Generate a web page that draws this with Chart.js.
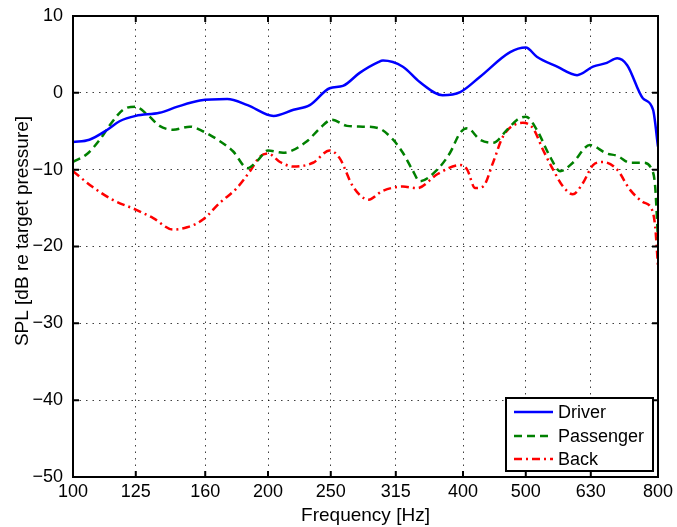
<!DOCTYPE html>
<html>
<head>
<meta charset="utf-8">
<script src="https://cdn.jsdelivr.net/npm/chart.js@4/dist/chart.umd.min.js"></script>
<style>
  html, body { margin: 0; padding: 0; background: #fff; }
  #wrap { width: 677px; height: 527px; }
</style>
</head>
<body>
<div id="wrap"><canvas id="spl" width="677" height="527"></canvas></div>
<script>
// Third-octave style frequency ticks and SPL ticks
const xTickValues = [100, 125, 160, 200, 250, 315, 400, 500, 630, 800];
const yTickValues = [10, 0, -10, -20, -30, -40, -50];

// Driver seat
const driverFreq = [100, 106, 113, 118, 125, 136, 145, 157, 173, 186, 204, 219, 232, 249, 261, 277, 296, 301, 323, 343, 372, 396, 425, 473, 500, 520, 559, 600, 635, 667, 692, 717, 758, 786, 800];
const driverSPL  = [-6.4, -6.1, -4.8, -3.7, -3.0, -2.6, -1.8, -1.0, -0.8, -1.6, -3.0, -2.2, -1.6, 0.6, 0.9, 2.6, 4.0, 4.2, 3.4, 1.4, -0.3, 0.1, 2.1, 5.3, 5.9, 4.7, 3.4, 2.3, 3.4, 3.9, 4.5, 3.6, -0.7, -2.2, -7.0];

// Passenger seat
const passengerFreq = [100, 105, 110, 114, 119.5, 124.7, 130.5, 136, 142.7, 151.6, 158.7, 168.6, 176.6, 186, 192.3, 200, 211, 229.7, 240.6, 251, 264.8, 280, 296, 312, 323, 334, 343, 365, 382, 396, 406, 425, 445, 468, 485, 500, 520, 545, 565, 591, 628, 667, 692, 724, 758, 783, 792, 800];
const passengerSPL  = [-9.0, -8.0, -6.1, -4.2, -2.2, -1.8, -2.9, -4.3, -4.8, -4.4, -5.0, -6.3, -7.6, -9.8, -8.9, -7.5, -7.8, -6.3, -4.6, -3.5, -4.3, -4.4, -4.6, -6.1, -7.8, -10.0, -11.5, -10.0, -7.8, -5.2, -4.6, -6.1, -6.5, -4.8, -3.5, -3.1, -4.8, -8.3, -10.2, -9.1, -6.8, -7.9, -8.2, -9.1, -9.1, -10.0, -12.2, -19.1];

// Back seats
const backFreq = [100, 107, 115, 125, 133, 142.7, 150, 158.7, 168.6, 179, 187.6, 194.4, 200, 208.7, 219, 234.7, 249, 258, 270.6, 286, 300, 323, 340, 365, 396, 406, 417.5, 429.5, 445, 461, 485, 495, 513, 531.5, 551, 571, 591, 613, 635, 658, 692, 724, 758, 783, 792, 800];
const backSPL  = [-10.2, -12.2, -13.9, -15.2, -16.3, -17.8, -17.5, -16.5, -14.3, -12.4, -10.2, -8.3, -7.9, -9.0, -9.6, -9.1, -7.5, -8.5, -12.2, -13.9, -12.8, -12.2, -12.4, -10.6, -9.4, -10.0, -12.4, -12.2, -9.1, -5.7, -4.0, -3.9, -4.6, -7.4, -10.0, -12.2, -13.2, -11.7, -9.4, -9.0, -10.0, -12.6, -14.2, -15.2, -17.4, -22.6];

const toPoints = (fs, vs) => fs.map((f, i) => ({ x: f, y: vs[i] }));
const minusLabel = v => (v < 0 ? '\u2212' + Math.abs(v) : String(v));

const FONT = '"Liberation Sans", Arial, Helvetica, sans-serif';
Chart.defaults.font.family = FONT;
Chart.defaults.color = '#000';

// Box around the axes with inward tick marks on all four sides
const framePlugin = {
  id: 'frame',
  afterDatasetsDraw(chart) {
    const { ctx, chartArea: a, scales: { x, y } } = chart;
    ctx.save();
    ctx.strokeStyle = '#000';
    ctx.lineWidth = 2;
    ctx.beginPath();
    for (const v of xTickValues) {
      const px = x.getPixelForValue(v);
      ctx.moveTo(px, a.bottom); ctx.lineTo(px, a.bottom - 6);
      ctx.moveTo(px, a.top); ctx.lineTo(px, a.top + 6);
    }
    for (const v of yTickValues) {
      const py = y.getPixelForValue(v);
      ctx.moveTo(a.left, py); ctx.lineTo(a.left + 6, py);
      ctx.moveTo(a.right, py); ctx.lineTo(a.right - 6, py);
    }
    ctx.stroke();
    ctx.strokeRect(a.left, a.top, a.right - a.left, a.bottom - a.top);
    ctx.restore();
  }
};

// Y axis title, legend box in the lower right corner
const overlayPlugin = {
  id: 'overlay',
  afterDraw(chart) {
    const { ctx, chartArea: a } = chart;
    ctx.save();
    ctx.fillStyle = '#000';
    ctx.font = '19px ' + FONT;
    ctx.textAlign = 'center';
    ctx.textBaseline = 'middle';
    ctx.translate(23, 231);
    ctx.rotate(-Math.PI / 2);
    ctx.fillText('SPL [dB re target pressure]', 0, 0);
    ctx.restore();

    const w = 147, h = 73;
    const x0 = a.right - 5 - w, y0 = a.bottom - 6 - h;
    ctx.save();
    ctx.fillStyle = '#fff';
    ctx.fillRect(x0, y0, w, h);
    ctx.strokeStyle = '#000';
    ctx.lineWidth = 2;
    ctx.strokeRect(x0, y0, w, h);
    const rows = [14, 38, 61];
    chart.data.datasets.forEach((ds, i) => {
      const yy = y0 + rows[i];
      ctx.strokeStyle = ds.borderColor;
      ctx.lineWidth = ds.borderWidth;
      ctx.setLineDash(ds.borderDash || []);
      ctx.beginPath();
      ctx.moveTo(x0 + 8, yy);
      ctx.lineTo(x0 + 47, yy);
      ctx.stroke();
      ctx.setLineDash([]);
      ctx.fillStyle = '#000';
      ctx.font = '18px ' + FONT;
      ctx.textAlign = 'left';
      ctx.textBaseline = 'middle';
      ctx.fillText(ds.label, x0 + 52, yy + 1);
    });
    ctx.restore();
  }
};

new Chart(document.getElementById('spl'), {
  type: 'line',
  data: {
    datasets: [
      { label: 'Driver', data: toPoints(driverFreq, driverSPL),
        borderColor: '#0000ff', borderWidth: 2.5, pointRadius: 0, fill: false,
        cubicInterpolationMode: 'monotone' },
      { label: 'Passenger', data: toPoints(passengerFreq, passengerSPL),
        borderColor: '#008000', borderWidth: 2.5, borderDash: [8, 5], pointRadius: 0, fill: false,
        cubicInterpolationMode: 'monotone' },
      { label: 'Back', data: toPoints(backFreq, backSPL),
        borderColor: '#ff0000', borderWidth: 2.5, borderDash: [8, 4, 2, 4], pointRadius: 0, fill: false,
        cubicInterpolationMode: 'monotone' }
    ]
  },
  options: {
    responsive: false,
    animation: false,
    events: [],
    layout: { padding: { top: 16, right: 19, left: 0, bottom: 0 } },
    plugins: { legend: { display: false }, tooltip: { enabled: false } },
    scales: {
      x: {
        type: 'logarithmic',
        min: 100, max: 800,
        afterBuildTicks: scale => { scale.ticks = xTickValues.map(v => ({ value: v })); },
        afterFit: scale => { scale.height = 50; scale.paddingLeft = 0; scale.paddingRight = 0; },
        ticks: { autoSkip: false, maxRotation: 0, padding: 4, font: { size: 18 }, color: '#000',
                 callback: v => String(v) },
        grid: { color: 'rgba(0,0,0,0.75)', lineWidth: 1, drawTicks: false },
        border: { display: false, dash: [1.5, 5] },
        title: { display: true, text: 'Frequency [Hz]', font: { size: 19 }, color: '#000',
                 padding: { top: 0, bottom: 0 } }
      },
      y: {
        type: 'linear',
        min: -50, max: 10,
        afterBuildTicks: scale => { scale.ticks = yTickValues.map(v => ({ value: v })); },
        afterFit: scale => { scale.width = 73; scale.paddingTop = 0; scale.paddingBottom = 0; },
        ticks: { padding: 10, font: { size: 18 }, color: '#000', callback: minusLabel },
        grid: { color: 'rgba(0,0,0,0.75)', lineWidth: 1, drawTicks: false },
        border: { display: false, dash: [1.5, 5] }
      }
    }
  },
  plugins: [framePlugin, overlayPlugin]
});
</script>
</body>
</html>
